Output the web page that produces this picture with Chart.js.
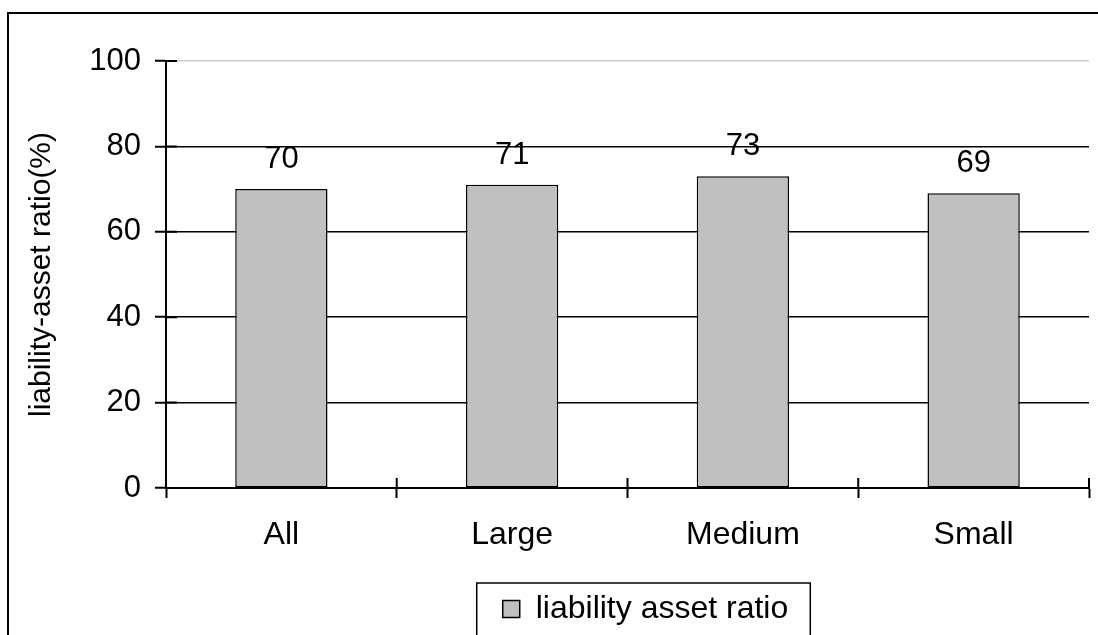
<!DOCTYPE html>
<html lang="en">
  <head>
    <meta charset="UTF-8" />
    <title>liability asset ratio</title>
    <script src="https://cdn.jsdelivr.net/npm/chart.js@4.4.1/dist/chart.umd.min.js"></script>
    <style>
      html, body { margin: 0; padding: 0; background: #fff; }
      #wrap { width: 1098px; height: 635px; }
    </style>
  </head>
  <body>
    <div id="wrap"><canvas id="myChart"></canvas></div>

    <script>
      // data
      const categories = ["All", "Large", "Medium", "Small"];
      const ratioValues = [70, 71, 73, 69];
      const yTicks = [0, 20, 40, 60, 80, 100];
      const seriesName = "liability asset ratio";
      const yTitle = "liability-asset ratio(%)";

      Chart.defaults.font.family = 'Arial, "Liberation Sans", sans-serif';
      Chart.defaults.font.size = 31;
      Chart.defaults.color = "#000";

      // outer frame + inner half of the axis ticks + value labels + legend box
      const extras = {
        id: "extras",
        afterLayout(chart) {
          // legend sits off-centre in the original
          const lg = chart.legend;
          lg.left += 101;
          lg.right += 101;
        },
        afterDatasetsDraw(chart) {
          const ctx = chart.ctx;
          const area = chart.chartArea;
          const x = chart.scales.x;
          const y = chart.scales.y;
          ctx.save();
          ctx.strokeStyle = "#000";
          ctx.lineWidth = 2;
          ctx.beginPath();
          yTicks.forEach(function (v) {
            const py = y.getPixelForValue(v);
            ctx.moveTo(area.left, py);
            ctx.lineTo(area.left + 11, py);
          });
          const step = (x.right - x.left) / categories.length;
          for (let i = 0; i <= categories.length; i++) {
            const px = x.left + i * step;
            ctx.moveTo(px, area.bottom);
            ctx.lineTo(px, area.bottom - 10);
          }
          ctx.stroke();

          // value labels
          ctx.fillStyle = "#000";
          ctx.font = '31px Arial, "Liberation Sans", sans-serif';
          ctx.textAlign = "center";
          ctx.textBaseline = "alphabetic";
          chart.getDatasetMeta(0).data.forEach(function (bar, i) {
            ctx.fillText(String(ratioValues[i]), bar.x, bar.y - 21);
          });
          ctx.restore();
        },
        afterDraw(chart) {
          const ctx = chart.ctx;
          ctx.save();
          ctx.strokeStyle = "#000";
          ctx.lineWidth = 2;
          ctx.strokeRect(8, 13, chart.width + 20, chart.height + 20);

          const lg = chart.legend;
          const pad = lg.options.labels.padding;
          const itemX = (lg.left + pad + lg.right - lg.lineWidths[0]) / 2;
          ctx.lineWidth = 1.5;
          ctx.strokeRect(itemX - 26, lg.top + 8, lg.lineWidths[0] + 30, lg.height + 20);
          ctx.restore();
        }
      };

      const ctx = document.getElementById("myChart").getContext("2d");
      const chart = new Chart(ctx, {
        type: "bar",
        data: {
          labels: categories,
          datasets: [
            {
              label: seriesName,
              data: ratioValues,
              backgroundColor: "#c0c0c0",
              borderColor: "#000",
              borderWidth: 1.5,
              borderSkipped: false,
              barPercentage: 0.4,
              categoryPercentage: 1.0
            }
          ]
        },
        options: {
          responsive: true,
          maintainAspectRatio: false,
          animation: false,
          layout: { padding: { top: 61, right: 9, bottom: 0, left: 0 } },
          plugins: {
            tooltip: { enabled: false },
            legend: {
              position: "bottom",
              labels: {
                boxWidth: 17,
                boxHeight: 17,
                padding: 18,
                color: "#000",
                font: { size: 32 }
              }
            }
          },
          scales: {
            x: {
              offset: true,
              afterFit: function (scale) { scale.height = 87; },
              grid: {
                offset: true,
                drawOnChartArea: false,
                drawTicks: true,
                tickLength: 10,
                tickWidth: 2,
                tickColor: "#000"
              },
              border: { display: true, color: "#000", width: 2 },
              ticks: { padding: 18, color: "#000", font: { size: 32 } }
            },
            y: {
              min: 0,
              max: 100,
              afterFit: function (scale) { scale.width = 166; },
              afterBuildTicks: function (scale) {
                scale.ticks = yTicks.map(function (v) { return { value: v }; });
              },
              grid: {
                color: function (c) { return c.tick && c.tick.value === 100 ? "#cccccc" : "#000"; },
                lineWidth: 1.5,
                drawTicks: true,
                tickLength: 11,
                tickWidth: 2,
                tickColor: "#000"
              },
              border: { display: true, color: "#000", width: 2 },
              ticks: { padding: 14, color: "#000", font: { size: 31 } },
              title: {
                display: true,
                text: yTitle,
                color: "#000",
                font: { size: 30 },
                padding: { top: 24, bottom: 0 }
              }
            }
          }
        },
        plugins: [extras]
      });
    </script>
  </body>
</html>
